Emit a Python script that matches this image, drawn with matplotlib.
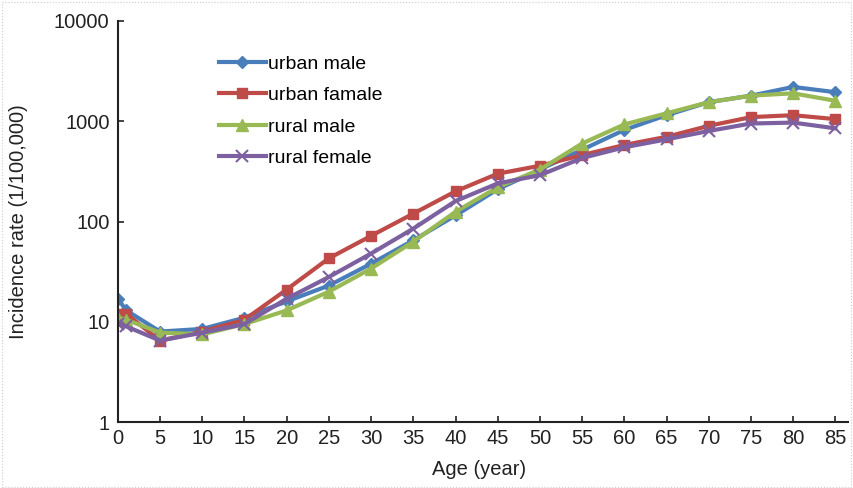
import matplotlib.pyplot as plt
from matplotlib.patches import Rectangle

plt.rcParams['font.family'] = ['Liberation Sans', 'DejaVu Sans']

ages = [0, 1, 5, 10, 15, 20, 25, 30, 35, 40, 45, 50, 55, 60, 65, 70, 75, 80, 85]

urban_male = [17, 13, 8, 8.5, 11, 16, 23, 38, 65, 115, 210, 330, 520, 820, 1150, 1550, 1800, 2200, 1950]
urban_female = [12, 12, 6.5, 8, 10.5, 21, 43, 72, 120, 200, 300, 360, 460, 580, 700, 900, 1100, 1150, 1050]
rural_male = [11, 10.5, 7.8, 7.5, 9.5, 13, 20, 34, 63, 125, 220, 330, 600, 930, 1200, 1550, 1800, 1900, 1600]
rural_female = [9.5, 9, 6.5, 7.8, 9.5, 17, 28, 48, 85, 160, 240, 290, 430, 550, 660, 800, 950, 970, 850]

labels = ['urban male', 'urban famale', 'rural male', 'rural female']
x_ticks = [0, 5, 10, 15, 20, 25, 30, 35, 40, 45, 50, 55, 60, 65, 70, 75, 80, 85]
y_ticks = [1, 10, 100, 1000, 10000]

fig = plt.figure(figsize=(8.54, 4.88), dpi=100)
ax = fig.add_axes([0.138, 0.135, 0.855, 0.822])

ax.plot(ages, urban_male, color='#4a7ebb', marker='D', markersize=6.5, lw=3, label=labels[0])
ax.plot(ages, urban_female, color='#be4b48', marker='s', markersize=7.5, lw=3, label=labels[1])
ax.plot(ages, rural_male, color='#98b954', marker='^', markersize=8.5, lw=3, label=labels[2])
ax.plot(ages, rural_female, color='#7d60a0', marker='x', markersize=8.5, mew=1.5, lw=3, label=labels[3])

ax.set_yscale('log')
ax.set_ylim(1, 10000)
ax.set_xlim(0, 86.5)
ax.set_yticks(y_ticks)
ax.set_yticklabels([str(v) for v in y_ticks])
ax.minorticks_off()
ax.set_xticks(x_ticks)
ax.set_xticklabels([str(v) for v in x_ticks])
ax.tick_params(direction='in', length=4, width=1.2, labelsize=14.5, colors='#222222')
ax.tick_params(axis='x', pad=5)
ax.tick_params(axis='y', pad=6)

for s in ['top', 'right']:
    ax.spines[s].set_visible(False)
for s in ['left', 'bottom']:
    ax.spines[s].set_linewidth(1.5)
    ax.spines[s].set_color('#222222')

ax.set_xlabel('Age (year)', fontsize=14.5, color='#222222')
ax.set_ylabel('Incidence rate (1/100,000)', fontsize=14.5, color='#222222')
ax.xaxis.set_label_coords(0.495, -0.095)
ax.yaxis.set_label_coords(-0.123, 0.5)

ax.legend(loc='upper left', bbox_to_anchor=(0.12, 0.948), frameon=False, fontsize=14,
          handlelength=2.4, handletextpad=0.1, labelspacing=0.7, borderpad=0.2)

fig.patches.append(Rectangle((0.002, 0.003), 0.995, 0.993, transform=fig.transFigure,
                             fill=False, ls=':', lw=0.8, ec='#cccccc'))

fig.savefig('out.png', dpi=100)
